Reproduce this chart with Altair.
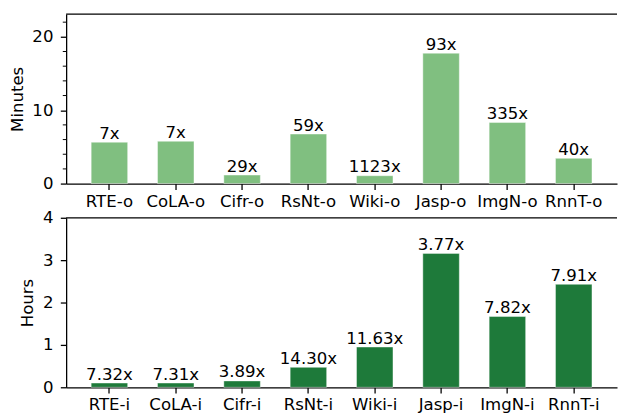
import altair as alt
import pandas as pd

cats_o = ["RTE-o", "CoLA-o", "Cifr-o", "RsNt-o", "Wiki-o", "Jasp-o", "ImgN-o", "RnnT-o"]
minutes = [5.64, 5.77, 1.16, 6.75, 1.07, 17.77, 8.32, 3.44]
labels_o = ["7x", "7x", "29x", "59x", "1123x", "93x", "335x", "40x"]
major_o = [0, 10, 20]
minor_o = [2, 4, 6, 8, 12, 14, 16, 18, 22]

cats_i = ["RTE-i", "CoLA-i", "Cifr-i", "RsNt-i", "Wiki-i", "Jasp-i", "ImgN-i", "RnnT-i"]
hours = [0.10, 0.10, 0.15, 0.47, 0.95, 3.16, 1.67, 2.43]
labels_i = ["7.32x", "7.31x", "3.89x", "14.30x", "11.63x", "3.77x", "7.82x", "7.91x"]
major_i = [0, 1, 2, 3, 4]

W = 559
H = 172
FS = 16.8
FONT = "DejaVu Sans"
LIGHT = "#80bf80"
DARK = "#1e7a3a"


def panel(cats, vals, lbls, color, ymax, yvals, title, minor):
    df = pd.DataFrame({"cat": cats, "val": vals, "lbl": lbls})
    xenc = alt.X(
        "cat:N",
        sort=cats,
        scale=alt.Scale(paddingInner=0.45, paddingOuter=0.3775),
        axis=alt.Axis(
            title=None, labelAngle=0, labelFontSize=FS, labelFont=FONT,
            labelColor="black", tickSize=5.9, tickWidth=1.3, tickColor="black",
            domainColor="black", domainWidth=1.3, labelPadding=4,
        ),
    )
    yenc = alt.Y(
        "val:Q",
        scale=alt.Scale(domain=[0, ymax], nice=False, zero=True),
        axis=alt.Axis(
            title=title, values=yvals, grid=False, labelFontSize=FS, labelFont=FONT,
            labelColor="black", tickSize=5.9, tickWidth=1.3, tickColor="black",
            domainColor="black", domainWidth=1.3, labelPadding=7.5,
            titleFontSize=FS, titleFont=FONT, titleFontWeight="normal",
            titleColor="black", titlePadding=6, labelOverlap=False,
        ),
    )
    base = alt.Chart(df)
    bars = base.mark_bar(color=color, stroke="white", strokeWidth=0.6, strokeOpacity=0.7).encode(x=xenc, y=yenc)
    text = base.mark_text(baseline="alphabetic", dy=-3.5, fontSize=FS, font=FONT, color="black").encode(
        x=alt.X("cat:N", sort=cats), y=alt.Y("val:Q"), text="lbl:N"
    )
    spine = alt.Chart(pd.DataFrame({"a": [0]})).mark_rule(color="black", strokeWidth=1.3).encode(
        x=alt.value(0), x2=alt.value(W), y=alt.value(0)
    )
    layers = [bars, text, spine]
    if minor:
        mt = alt.Chart(pd.DataFrame({"val": minor})).mark_rule(color="black", strokeWidth=1.0).encode(
            x=alt.value(-3.4), x2=alt.value(0), y=alt.Y("val:Q")
        )
        layers.append(mt)
    return alt.layer(*layers).properties(width=W, height=H)


top = panel(cats_o, minutes, labels_o, LIGHT, 23.1, major_o, "Minutes", minor_o)
bottom = panel(cats_i, hours, labels_i, DARK, 4, major_i, "Hours", None)

chart = alt.vconcat(top, bottom, spacing=34.7, bounds="flush").properties(
    padding={"left": 1, "top": 2, "right": 0, "bottom": 22}
).configure_view(strokeWidth=0)

chart.save("out.html", embed_options={"renderer": "svg", "actions": False})
